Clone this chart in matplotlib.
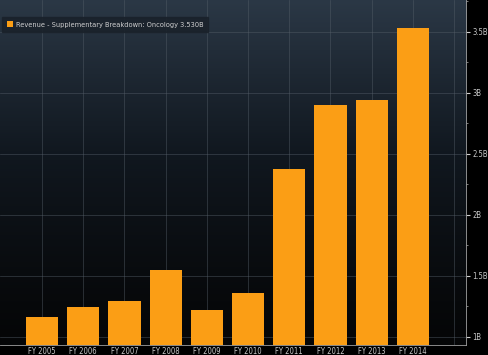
import matplotlib.pyplot as plt
import numpy as np
from matplotlib.colors import LinearSegmentedColormap
from matplotlib.ticker import MultipleLocator, FuncFormatter

# Oncology revenue (billions)
years = ['FY 2005', 'FY 2006', 'FY 2007', 'FY 2008', 'FY 2009',
         'FY 2010', 'FY 2011', 'FY 2012', 'FY 2013', 'FY 2014']
revenue = [1.164, 1.246, 1.29, 1.547, 1.216, 1.356, 2.375, 2.897, 2.943, 3.530]
legend_label = 'Revenue - Supplementary Breakdown: Oncology 3.530B'

plt.rcParams['font.family'] = ['DejaVu Sans']
plt.rcParams['font.stretch'] = 'condensed'

fig = plt.figure(figsize=(4.88, 3.55), dpi=100, facecolor='black')
ax = fig.add_axes([0.0, 0.028, 0.955, 0.972])

x = np.arange(len(years))
xlim = (-1.02, 10.29)
ylim = (0.932, 3.76)

# background gradient: slate at top fading to black at bottom
cmap = LinearSegmentedColormap.from_list('bg', ['#050607', '#111820', '#2b3846'])
grad = np.linspace(0, 1, 256).reshape(-1, 1) ** 1.2
ax.imshow(grad, extent=[xlim[0], xlim[1], ylim[0], ylim[1]], origin='lower',
          aspect='auto', cmap=cmap, zorder=0)

# grid lines
for gx in list(x) + [10]:
    ax.axvline(gx, color='#56606a', lw=0.5, alpha=0.6, zorder=1)
for gy in [1, 1.5, 2, 2.5, 3, 3.5]:
    ax.axhline(gy, color='#56606a', lw=0.5, alpha=0.6, zorder=1)

ax.bar(x, revenue, width=0.78, bottom=0, color='#fb9e15', zorder=2,
       label=legend_label)

ax.set_xlim(*xlim)
ax.set_ylim(*ylim)

ax.set_xticks(x)
ax.set_xticklabels(years)
ax.yaxis.tick_right()
ax.yaxis.set_major_locator(MultipleLocator(0.5))
ax.yaxis.set_minor_locator(MultipleLocator(0.25))
ax.yaxis.set_major_formatter(FuncFormatter(lambda v, p: f'{v:g}B'))

ax.tick_params(axis='x', length=0, pad=1.5, labelsize=5.5, labelcolor='#c8c8c8')
ax.tick_params(axis='y', which='major', direction='out', length=3, width=0.8,
               color='#d0d0d0', pad=1.5, labelsize=5.5, labelcolor='#c8c8c8')
ax.tick_params(axis='y', which='minor', direction='out', length=1.5, width=0.6,
               color='#909090')

for side in ['top', 'left']:
    ax.spines[side].set_visible(False)
ax.spines['right'].set_color('#a0a0a0')
ax.spines['right'].set_linewidth(0.6)
ax.spines['bottom'].set_color('#a0a0a0')
ax.spines['bottom'].set_linewidth(0.6)

leg = ax.legend(loc='upper left', bbox_to_anchor=(0.0, 0.958), fontsize=5.35,
                frameon=True, fancybox=False, handlelength=0.85, handleheight=0.85,
                handletextpad=0.4, borderpad=0.6, borderaxespad=0.3)
leg.get_frame().set_facecolor('#1a222b')
leg.get_frame().set_edgecolor('#1a222b')
leg.get_frame().set_alpha(0.9)
for t in leg.get_texts():
    t.set_color('#d0d0d0')

fig.savefig('out.png', dpi=100, facecolor='black')
